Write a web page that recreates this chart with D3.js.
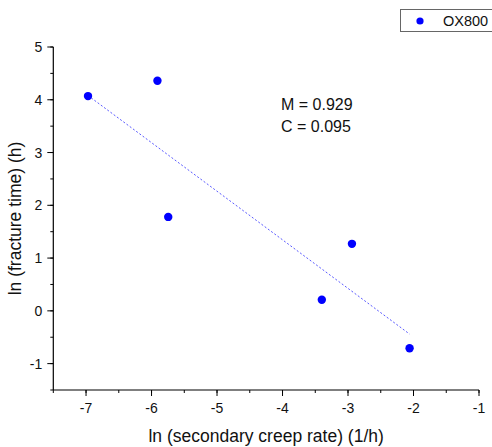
<!DOCTYPE html>
<html>
<head>
<meta charset="utf-8">
<script src="https://cdn.jsdelivr.net/npm/d3@7"></script>
<style>
  body { margin: 0; background: #fff; }
  svg text { font-family: "Liberation Sans", Arial, sans-serif; fill: #111; }
</style>
</head>
<body>
<svg id="chart" width="492" height="447"></svg>
<script>
// data
const lnRate = [-6.97, -5.91, -5.745, -3.40, -2.94, -2.06];
const lnTime = [4.07, 4.36, 1.78, 0.21, 1.27, -0.71];

// fitted line end points
const fitX = [-6.97, -2.06];
const fitY = [4.08, -0.44];

const xTicks = [-7, -6, -5, -4, -3, -2, -1];
const yTicks = [-1, 0, 1, 2, 3, 4, 5];
const seriesName = 'OX800';
const fitText = ['M = 0.929', 'C = 0.095'];

const svg = d3.select('#chart');

const x = d3.scaleLinear().domain([-7.5, -1]).range([53.3, 479]);
const y = d3.scaleLinear().domain([-1.5, 5]).range([390, 47]);

// minor ticks every 0.5
const xMinor = d3.range(-7.5, -0.99, 0.5);
const yMinor = d3.range(-1.5, 5.01, 0.5);

// bottom axis
const gx = svg.append('g').attr('transform', `translate(0,${y(-1.5)})`);
gx.append('line').attr('x1', x(-7.5)).attr('x2', x(-1)).attr('stroke', '#000').attr('stroke-width', 1.2);
gx.selectAll('.minor').data(xMinor).enter().append('line')
    .attr('x1', d => x(d)).attr('x2', d => x(d))
    .attr('y1', 0).attr('y2', 3).attr('stroke', '#000');
gx.selectAll('.major').data(xTicks).enter().append('line')
    .attr('x1', d => x(d)).attr('x2', d => x(d))
    .attr('y1', 0).attr('y2', 6).attr('stroke', '#000');
gx.selectAll('text').data(xTicks).enter().append('text')
    .attr('x', d => x(d)).attr('y', 23)
    .attr('text-anchor', 'middle').attr('font-size', 14)
    .text(d => d);

// left axis
const gy = svg.append('g').attr('transform', `translate(${x(-7.5)},0)`);
gy.append('line').attr('y1', y(-1.5)).attr('y2', y(5)).attr('stroke', '#000').attr('stroke-width', 1.2);
gy.selectAll('.minor').data(yMinor).enter().append('line')
    .attr('y1', d => y(d)).attr('y2', d => y(d))
    .attr('x1', 0).attr('x2', -3).attr('stroke', '#000');
gy.selectAll('.major').data(yTicks).enter().append('line')
    .attr('y1', d => y(d)).attr('y2', d => y(d))
    .attr('x1', 0).attr('x2', -6).attr('stroke', '#000');
gy.selectAll('text').data(yTicks).enter().append('text')
    .attr('x', -11).attr('y', d => y(d) + 5)
    .attr('text-anchor', 'end').attr('font-size', 14)
    .text(d => d);

// axis titles
svg.append('text')
    .attr('x', (x(-7.5) + x(-1)) / 2).attr('y', 442)
    .attr('text-anchor', 'middle').attr('font-size', 17.5)
    .text('ln (secondary creep rate) (1/h)');
svg.append('text')
    .attr('transform', `translate(21,${(y(-1.5) + y(5)) / 2}) rotate(-90)`)
    .attr('text-anchor', 'middle').attr('font-size', 17.5)
    .text('ln (fracture time) (h)');

// fit line
svg.append('line')
    .attr('x1', x(fitX[0])).attr('y1', y(fitY[0]))
    .attr('x2', x(fitX[1])).attr('y2', y(fitY[1]))
    .attr('stroke', '#5a5aff').attr('stroke-width', 1)
    .attr('stroke-dasharray', '2,2');

// points
svg.selectAll('circle.pt').data(lnRate).enter().append('circle')
    .attr('class', 'pt')
    .attr('cx', d => x(d)).attr('cy', (d, i) => y(lnTime[i]))
    .attr('r', 4.2).attr('fill', '#0000ff');

// fit annotation
svg.selectAll('text.fit').data(fitText).enter().append('text')
    .attr('class', 'fit')
    .attr('x', 281).attr('y', (d, i) => 110 + i * 21.7)
    .attr('font-size', 16)
    .text(d => d);

// legend
svg.append('rect')
    .attr('x', 400.5).attr('y', 9.5).attr('width', 100).attr('height', 22)
    .attr('fill', '#fff').attr('stroke', '#666');
svg.append('circle').attr('cx', 420).attr('cy', 21).attr('r', 3.6).attr('fill', '#0000ff');
svg.append('text').attr('x', 443).attr('y', 26).attr('font-size', 14.5).text(seriesName);
</script>
</body>
</html>
